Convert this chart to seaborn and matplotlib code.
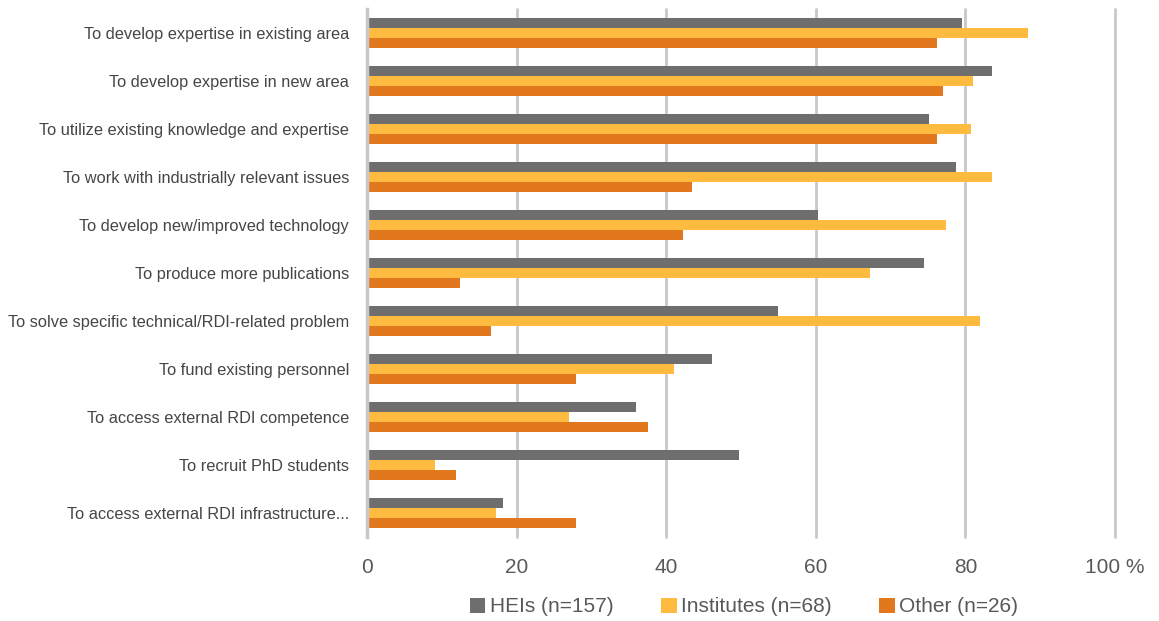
import matplotlib
matplotlib.use("Agg")
import matplotlib.pyplot as plt
from matplotlib.patches import Patch
import seaborn as sns
import pandas as pd

categories = [
    "To develop expertise in existing area",
    "To develop expertise in new area",
    "To utilize existing knowledge and expertise",
    "To work with industrially relevant issues",
    "To develop new/improved technology",
    "To produce more publications",
    "To solve specific technical/RDI-related problem",
    "To fund existing personnel",
    "To access external RDI competence",
    "To recruit PhD students",
    "To access external RDI infrastructure...",
]
series_names = ["HEIs (n=157)", "Institutes (n=68)", "Other (n=26)"]
heis = [79.5, 83.6, 75.1, 78.8, 60.3, 74.4, 55.0, 46.1, 35.9, 49.7, 18.2]
institutes = [88.4, 81.0, 80.7, 83.6, 77.4, 67.2, 81.9, 41.0, 27.0, 9.1, 17.2]
other = [76.2, 77.0, 76.2, 43.5, 42.3, 12.4, 16.6, 28.0, 37.5, 11.9, 28.0]
x_ticks = [0, 20, 40, 60, 80, 100]
x_tick_labels = ["0", "20", "40", "60", "80", "100 %"]

colors = ["#6E6E6E", "#FFBB40", "#E2781E"]
label_color = "#454545"
text_color = "#595959"
grid_color = "#C8C8C8"

rows = []
for name, vals in zip(series_names, [heis, institutes, other]):
    for cat, v in zip(categories, vals):
        rows.append({"Reason": cat, "Group": name, "Share": v})
df = pd.DataFrame(rows)

sns.set_theme(style="white")
plt.rcParams["font.family"] = ["Liberation Sans", "DejaVu Sans"]

fig = plt.figure(figsize=(11.59, 6.21), dpi=100)
ax = fig.add_axes([367 / 1159, 1 - 537 / 621, (1115 - 367) / 1159, (537 - 9) / 621])

sns.barplot(
    data=df, y="Reason", x="Share", hue="Group", order=categories,
    hue_order=series_names, palette=colors, orient="h", width=0.625,
    ax=ax, legend=False, linewidth=0, saturation=1,
)

ax.set_xlim(0, 100)
ax.set_ylim(len(categories) - 0.5, -0.5)
ax.set_xticks(x_ticks)
ax.set_xticklabels(x_tick_labels, fontsize=15, color=text_color)
ax.tick_params(axis="y", labelsize=11.8, labelcolor=label_color, length=0, pad=13)
ax.tick_params(axis="x", length=0, pad=15)
ax.set_xlabel("")
ax.set_ylabel("")
ax.xaxis.grid(True, color=grid_color, linewidth=2)
for gl in ax.get_xgridlines():
    gl.set_clip_on(False)
ax.set_axisbelow(True)
for side in ["top", "right", "bottom"]:
    ax.spines[side].set_visible(False)
ax.spines["left"].set_color(grid_color)
ax.spines["left"].set_linewidth(2.5)

handles = [Patch(facecolor=c, edgecolor="none") for c in colors]
fig.legend(
    handles, series_names, loc="center", bbox_to_anchor=(744 / 1159, 1 - 607 / 621),
    ncol=3, frameon=False, fontsize=15, labelcolor=text_color,
    handlelength=0.75, handleheight=0.75, handletextpad=0.2, columnspacing=2.3,
)

fig.savefig("out.png", dpi=100)
